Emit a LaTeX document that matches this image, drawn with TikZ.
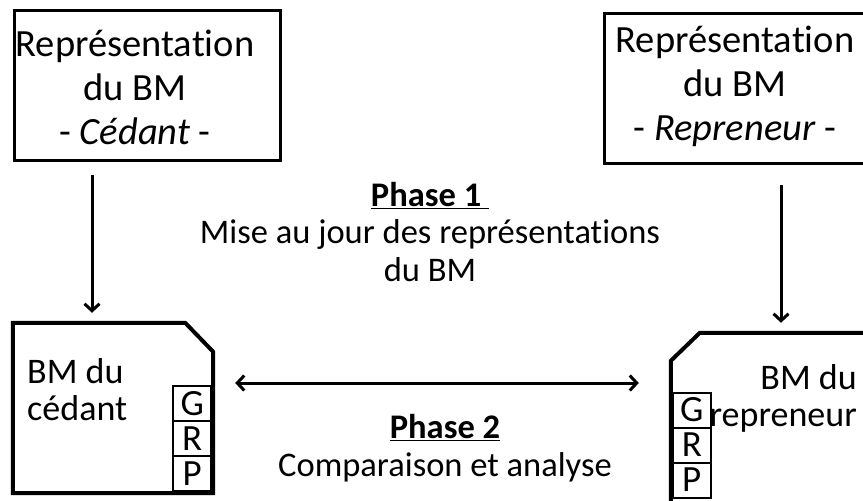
\documentclass[tikz,border=0pt]{standalone}
\usepackage{fontspec}
\setmainfont{Carlito}[Ligatures=NoCommon]
\usetikzlibrary{arrows.meta,positioning,calc}

\begin{document}
\begin{tikzpicture}[
  x=1pt, y=-1pt,
  repbox/.style={draw, line width=3pt, minimum width=266pt, minimum height=150pt},
  reptext/.style={align=center, inner sep=0pt, font=\fontsize{38.5}{44}\selectfont},
  bmzone/.style={inner sep=0pt, minimum width=200pt, minimum height=170pt},
  bmline/.style={line width=4pt, line join=miter},
  bmtext/.style={inner sep=0pt, font=\fontsize{36}{37}\selectfont},
  grp/.style={draw, line width=2pt, minimum width=38pt, minimum height=35pt, inner sep=0pt, outer sep=0pt,
    text height=23pt, text depth=0pt, font=\fontsize{37}{36}\selectfont},
  phase/.style={align=center, inner sep=0pt, font=\fontsize{34.5}{37.5}\selectfont},
  fleche/.style={line width=3pt, -{Straight Barb[length=7pt, width=15pt]}}
]
  \useasboundingbox (0,0) rectangle (863,501);
  \clip (0,0) rectangle (863,501);

  % boxes at the top
  \node[repbox] (repced) at (147,85) {};
  \node[reptext] at (135,87) {Représentation\\du BM\\- \textit{Cédant} -};
  \node[repbox] (reprep) at (737,88) {};
  \node[reptext] at (735,86) {Représentation\\du BM\\- \textit{Repreneur} -};

  % BM of the seller, corner cut top right
  \node[bmzone] (bmced) at (113,408) {};
  \draw[bmline] (bmced.north west) -- ([xshift=-28pt]bmced.north east)
    -- ([yshift=-29pt]bmced.north east) -- (bmced.south east)
    -- (bmced.south west) -- cycle;
  \node[bmtext, align=left, anchor=west] (bmcedtxt) at (27,390) {BM du\\cédant};
  \node[grp, anchor=south east] (cedP) at ([shift={(-2pt,2pt)}]bmced.south east) {P};
  \node[grp, above=0pt of cedP] (cedR) {R};
  \node[grp, above=0pt of cedR] (cedG) {G};

  % BM of the buyer, corner cut top left
  \node[bmzone] (bmrep) at (771,418) {};
  \draw[bmline] (bmrep.south west) -- ([yshift=-28pt]bmrep.north west)
    -- ([xshift=29pt]bmrep.north west) -- (bmrep.north east)
    -- (bmrep.south east) -- cycle;
  \node[bmtext, align=right, anchor=east] (bmreptxt) at (857,398) {BM du\\repreneur};
  \node[grp, anchor=north west] (repG) at ([shift={(2pt,-60pt)}]bmrep.north west) {G};
  \node[grp, below=0pt of repG] (repR) {R};
  \node[grp, below=0pt of repR] (repP) {P};

  % phase labels
  \node[phase] (phase1) at (430,232) {\underline{\textbf{Phase 1\ }}\\Mise au jour des représentations\\du BM};
  \node[phase] (phase2) at (445,448) {\underline{\textbf{Phase 2}}\\Comparaison et analyse};

  % connectors
  \draw[fleche, shorten <=13pt, shorten >=10pt]
    ([xshift=-55pt]repced.south) -- ([xshift=-55pt]repced.south |- bmced.north);
  \draw[fleche, shorten <=20pt, shorten >=10pt]
    ([xshift=44pt]reprep.south) -- ([xshift=44pt]reprep.south |- bmrep.north);
  \draw[fleche, {Straight Barb[length=7pt, width=15pt]}-{Straight Barb[length=7pt, width=15pt]}, shorten <=22pt, shorten >=32pt]
    ([yshift=25pt]bmced.east) -- ([yshift=25pt]bmced.east -| bmrep.west);
\end{tikzpicture}
\end{document}
